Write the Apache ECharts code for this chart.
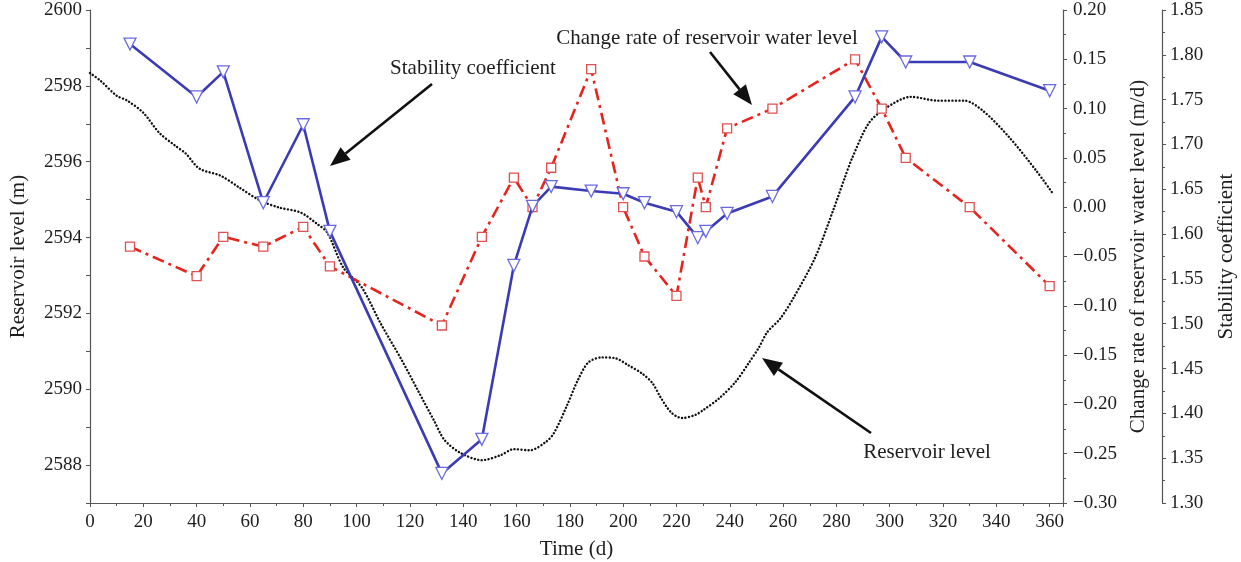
<!DOCTYPE html>
<html>
<head>
<meta charset="utf-8">
<script src="https://cdn.jsdelivr.net/npm/echarts@6/dist/echarts.min.js"></script>
<style>
  html, body { margin: 0; padding: 0; background: #fff; }
  #chart { width: 1241px; height: 562px; }
</style>
</head>
<body>
<div id="chart"></div>
<script>
// Monitoring days for the sampled series
const sampleDays = [15, 40, 50, 65, 80, 90, 132, 147, 159, 166, 173, 188, 200, 208, 220, 228, 231, 239, 256, 287, 297, 306, 330, 360];
// Stability coefficient at each sampled day
const stability = [1.812, 1.753, 1.781, 1.635, 1.722, 1.603, 1.333, 1.371, 1.565, 1.631, 1.653, 1.648, 1.645, 1.635, 1.625, 1.596, 1.603, 1.623, 1.642, 1.753, 1.820, 1.792, 1.792, 1.760];
// Change rate of reservoir water level (m/d) at each sampled day
const changeRate = [-0.04, -0.07, -0.03, -0.04, -0.02, -0.06, -0.12, -0.03, 0.03, 0.00, 0.04, 0.14, 0.00, -0.05, -0.09, 0.03, 0.00, 0.08, 0.10, 0.15, 0.10, 0.05, 0.00, -0.08];

// Reservoir level record (m)
const levelDays = [0, 4, 10, 14, 20, 26, 32, 36, 41, 49, 56, 64, 71, 79, 85, 89, 95, 102, 109, 117, 123, 129, 133, 139, 147, 154, 159, 165, 171, 174, 179, 183, 187, 192, 197, 202, 207, 211, 214, 218, 222, 227, 230, 236, 242, 247, 251, 254, 259, 264, 272, 279, 283, 286, 292, 298, 308, 318, 328, 335, 345, 355, 361];
const levels = [2598.34, 2598.13, 2597.74, 2597.61, 2597.29, 2596.76, 2596.42, 2596.21, 2595.82, 2595.63, 2595.32, 2594.97, 2594.79, 2594.66, 2594.37, 2594.13, 2593.21, 2592.68, 2591.74, 2590.76, 2589.97, 2589.18, 2588.66, 2588.32, 2588.13, 2588.26, 2588.42, 2588.39, 2588.61, 2588.84, 2589.58, 2590.24, 2590.71, 2590.84, 2590.82, 2590.63, 2590.42, 2590.16, 2589.79, 2589.39, 2589.24, 2589.32, 2589.45, 2589.76, 2590.18, 2590.68, 2591.11, 2591.50, 2591.87, 2592.42, 2593.47, 2594.76, 2595.55, 2596.11, 2597.00, 2597.39, 2597.71, 2597.61, 2597.61, 2597.34, 2596.63, 2595.76, 2595.18];

// Callout texts
const calloutTexts = ['Stability coefficient', 'Change rate of reservoir water level', 'Reservoir level'];

const FONT = '"Liberation Serif", "DejaVu Serif", serif';
const TXT = '#1e1e1e';
const AXIS = '#555';
const TITLE_SIZE = 21;
const TICK_SIZE = 19;

const pair = (xs, ys) => xs.map((x, i) => [x, ys[i]]);
const signed = (v, d) => (v < 0 ? '\u2212' : '') + Math.abs(v).toFixed(d);

const baseY = {
  type: 'value',
  nameLocation: 'middle',
  nameRotate: 90,
  nameTextStyle: { fontFamily: FONT, fontSize: TITLE_SIZE, color: TXT },
  axisLine: { show: true, onZero: false, lineStyle: { color: AXIS, width: 1.2 } },
  axisTick: { show: true, length: 4, lineStyle: { color: AXIS } },
  minorTick: { show: true, splitNumber: 2, length: 3, lineStyle: { color: AXIS } },
  splitLine: { show: false },
  axisLabel: { fontFamily: FONT, fontSize: TICK_SIZE, color: TXT, margin: 8 }
};

// Callout arrow: shaft plus filled head, tip at (x2, y2)
function arrow(x1, y1, x2, y2) {
  const a = Math.atan2(y2 - y1, x2 - x1);
  const L = 20, W = 8;
  const bx = x2 - L * Math.cos(a), by = y2 - L * Math.sin(a);
  const px = -Math.sin(a) * W, py = Math.cos(a) * W;
  return [
    { type: 'line', shape: { x1: x1, y1: y1, x2: bx, y2: by }, style: { stroke: '#111', lineWidth: 2.6 } },
    { type: 'polygon', shape: { points: [[x2, y2], [bx + px, by + py], [bx - px, by - py]] }, style: { fill: '#111' } }
  ];
}

function callout(text, x, y) {
  return { type: 'text', x: x, y: y, style: { text: text, font: TITLE_SIZE + 'px ' + FONT, fill: TXT, align: 'center', verticalAlign: 'middle' } };
}

const chart = echarts.init(document.getElementById('chart'));
chart.setOption({
  animation: false,
  backgroundColor: '#fff',
  grid: { left: 90, right: 178, top: 10, bottom: 59, outerBoundsMode: 'none', containLabel: false },
  xAxis: {
    type: 'value', min: 0, max: 365, interval: 20,
    name: 'Time (d)', nameLocation: 'middle', nameGap: 36,
    nameTextStyle: { fontFamily: FONT, fontSize: TITLE_SIZE, color: TXT },
    axisLine: { onZero: false, lineStyle: { color: AXIS, width: 1.2 } },
    axisTick: { length: 4, lineStyle: { color: AXIS } },
    minorTick: { show: true, splitNumber: 2, length: 3, lineStyle: { color: AXIS } },
    splitLine: { show: false },
    axisLabel: { fontFamily: FONT, fontSize: TICK_SIZE, color: TXT, margin: 10, showMaxLabel: false }
  },
  yAxis: [
    Object.assign({}, baseY, {
      position: 'left', min: 2587, max: 2600, interval: 1,
      name: 'Reservoir level (m)', nameGap: 61,
      minorTick: { show: false },
      axisLabel: Object.assign({}, baseY.axisLabel, {
        formatter: v => (v % 2 === 0 ? String(v) : '')
      })
    }),
    Object.assign({}, baseY, {
      position: 'right', offset: 0, min: -0.30, max: 0.20, interval: 0.05,
      name: 'Change rate of reservoir water level (m/d)', nameGap: 60,
      axisLabel: Object.assign({}, baseY.axisLabel, { margin: 10, formatter: v => signed(v, 2) })
    }),
    Object.assign({}, baseY, {
      position: 'right', offset: 99, min: 1.30, max: 1.85, interval: 0.05,
      name: 'Stability coefficient', nameGap: 54,
      axisLabel: Object.assign({}, baseY.axisLabel, { formatter: v => v.toFixed(2) })
    })
  ],
  series: [
    {
      name: 'Reservoir level', type: 'line', yAxisIndex: 0,
      data: pair(levelDays, levels),
      showSymbol: false, smooth: 0.3,
      lineStyle: { color: '#111', width: 2.4, type: [0.1, 3.4], cap: 'round' },
      z: 2
    },
    {
      name: 'Change rate of reservoir water level', type: 'line', yAxisIndex: 1,
      data: pair(sampleDays, changeRate),
      symbol: 'rect', symbolSize: 9,
      itemStyle: { color: '#fff', borderColor: '#e05050', borderWidth: 1.3 },
      lineStyle: { color: '#e8231d', width: 2.6, type: [12, 5, 3, 5] },
      z: 3
    },
    {
      name: 'Stability coefficient', type: 'line', yAxisIndex: 2,
      data: pair(sampleDays, stability),
      symbol: 'triangle', symbolRotate: 180, symbolSize: 12,
      itemStyle: { color: '#fff', borderColor: '#6a6ae0', borderWidth: 1.3 },
      lineStyle: { color: '#3b3bb5', width: 2.6 },
      z: 4
    }
  ],
  graphic: [
    callout(calloutTexts[0], 473, 68),
    callout(calloutTexts[1], 707, 38),
    callout(calloutTexts[2], 927, 452)
  ].concat(arrow(432, 84, 330, 166), arrow(710, 52, 752, 105), arrow(871, 433, 762, 358))
});
</script>
</body>
</html>
